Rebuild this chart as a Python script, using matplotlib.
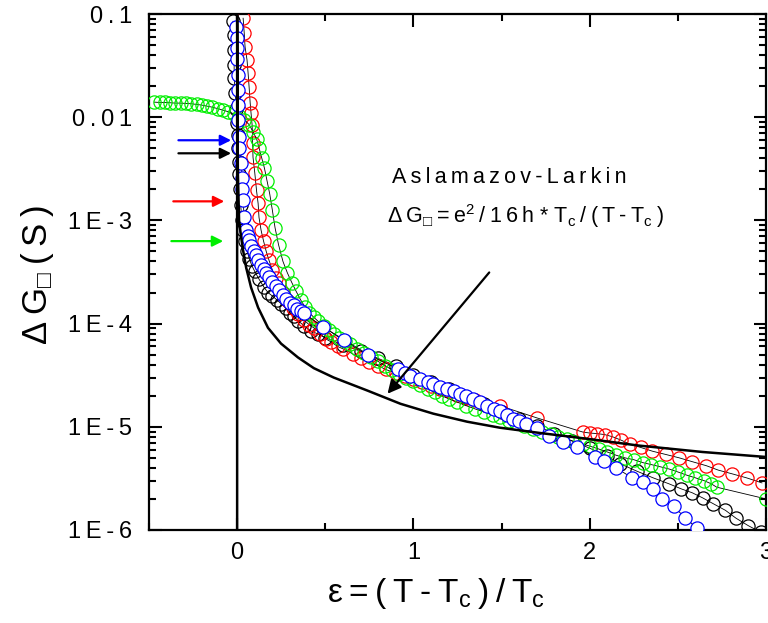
import matplotlib
matplotlib.use('Agg')
import matplotlib.pyplot as plt
from matplotlib.ticker import MultipleLocator, FixedLocator, FixedFormatter, LogLocator, NullFormatter

plt.rcParams['font.family'] = ['Liberation Sans', 'DejaVu Sans']
plt.rcParams['mathtext.fontset'] = 'custom'
plt.rcParams['mathtext.rm'] = 'Liberation Sans'
plt.rcParams['mathtext.it'] = 'Liberation Sans'
plt.rcParams['mathtext.default'] = 'regular'

# ---- data (eps = (T-Tc)/Tc, dG in S) ----
# Aslamazov-Larkin curve (thick black line)
eps_al = [0.0, 0.0, 0.004, 0.011, 0.022, 0.034, 0.051, 0.079, 0.119, 0.175, 0.249,
          0.345, 0.435, 0.548, 0.74, 0.927, 1.113, 1.305, 1.49, 1.72, 2.0, 2.27, 2.64, 3.0]
g_al = [5e-7, 0.12, 3e-3, 1.0e-3, 7.0e-4, 5.1e-4, 3.5e-4, 2.24e-4, 1.43e-4, 9.1e-5, 6.4e-5,
        4.7e-5, 3.7e-5, 3.0e-5, 2.24e-5, 1.67e-5, 1.34e-5, 1.12e-5, 9.8e-6, 8.7e-6, 7.6e-6,
        6.6e-6, 5.7e-6, 5.1e-6]

# black circles
eps_k = [-0.023, -0.02, -0.017, -0.017, -0.017, -0.01, -0.005, 0.0, 0.006, 0.006, 0.008,
         0.011, 0.014, 0.02, 0.028, 0.034, 0.045, 0.056, 0.07, 0.085, 0.1, 0.124, 0.153,
         0.175, 0.2, 0.225, 0.249, 0.275, 0.3, 0.32, 0.345, 0.38, 0.418, 0.46, 0.5, 0.6,
         0.7, 0.8, 0.9, 1.0, 1.1, 1.2, 1.3, 1.4, 1.5, 1.6, 1.7, 1.8, 1.9, 2.0, 2.1, 2.17,
         2.27, 2.36, 2.45, 2.52, 2.58, 2.64, 2.70, 2.77, 2.83, 2.9, 2.97]
g_k = [0.085, 0.062, 0.045, 0.032, 0.024, 0.017, 0.012, 0.0088, 0.0067, 0.0050, 0.0037,
       0.0028, 0.0020, 0.0014, 0.0010, 8.0e-4, 6.3e-4, 5.1e-4, 4.2e-4, 3.6e-4, 3.2e-4,
       2.7e-4, 2.24e-4, 2.0e-4, 1.85e-4, 1.7e-4, 1.56e-4, 1.42e-4, 1.28e-4, 1.18e-4,
       1.07e-4, 9.5e-5, 8.5e-5, 7.9e-5, 7.3e-5, 6.2e-5, 5.4e-5, 4.6e-5, 3.9e-5, 3.2e-5,
       2.7e-5, 2.3e-5, 1.95e-5, 1.65e-5, 1.4e-5, 1.2e-5, 1.02e-5, 8.6e-6, 7.3e-6, 6.2e-6,
       5.2e-6, 4.4e-6, 3.7e-6, 3.2e-6, 2.8e-6, 2.5e-6, 2.3e-6, 2.05e-6, 1.8e-6, 1.55e-6,
       1.3e-6, 1.1e-6, 9.5e-7]

# red circles
eps_r = [0.034, 0.040, 0.045, 0.056, 0.062, 0.068, 0.074, 0.079, 0.085, 0.088, 0.09, 0.1,
         0.11, 0.119, 0.124, 0.136, 0.15, 0.165, 0.181, 0.2, 0.22, 0.237, 0.26, 0.29, 0.316,
         0.345, 0.38, 0.41, 0.435, 0.47, 0.503, 0.53, 0.57, 0.6, 0.655, 0.7, 0.75, 0.8,
         0.842, 0.9, 0.95, 1.0, 1.05, 1.1, 1.15, 1.2, 1.25, 1.3, 1.35, 1.49, 1.70, 1.96,
         2.0, 2.04, 2.085, 2.13, 2.18, 2.226, 2.29, 2.356, 2.43, 2.508, 2.58, 2.661, 2.73,
         2.808, 2.89, 2.977]
g_r = [0.091, 0.066, 0.048, 0.036, 0.027, 0.0195, 0.0137, 0.0109, 0.0084, 0.0056, 0.0041,
       0.0029, 0.00195, 0.00146, 0.00107, 8.0e-4, 6.3e-4, 5.0e-4, 4.1e-4, 3.3e-4, 2.75e-4,
       2.45e-4, 2.0e-4, 1.65e-4, 1.43e-4, 1.25e-4, 1.08e-4, 9.7e-5, 9.1e-5, 8.0e-5, 7.1e-5,
       6.7e-5, 6.0e-5, 5.7e-5, 5.1e-5, 4.6e-5, 4.2e-5, 3.9e-5, 3.6e-5, 3.3e-5, 3.1e-5,
       2.9e-5, 2.7e-5, 2.5e-5, 2.35e-5, 2.2e-5, 2.05e-5, 1.92e-5, 1.8e-5, 1.6e-5, 1.22e-5,
       8.9e-6, 8.7e-6, 8.6e-6, 8.4e-6, 8.0e-6, 7.4e-6, 6.8e-6, 6.3e-6, 5.8e-6, 5.4e-6,
       5.0e-6, 4.6e-6, 4.2e-6, 3.8e-6, 3.5e-6, 3.2e-6, 2.86e-6]

# green circles
eps_g = [-0.47, -0.44, -0.41, -0.38, -0.35, -0.32, -0.29, -0.26, -0.23, -0.20, -0.17, -0.14,
         -0.11, -0.08, -0.05, -0.02, 0.01, 0.04, 0.07, 0.09, 0.11, 0.125, 0.14, 0.155, 0.17,
         0.185, 0.2, 0.215, 0.235, 0.26, 0.285, 0.31, 0.335, 0.36, 0.385, 0.41, 0.435, 0.46,
         0.49, 0.52, 0.55, 0.58, 0.61, 0.64, 0.68, 0.72, 0.76, 0.80, 0.84, 0.88, 0.92, 0.96,
         1.0, 1.04, 1.08, 1.12, 1.16, 1.2, 1.25, 1.3, 1.35, 1.4, 1.45, 1.49, 1.54, 1.58, 1.63,
         1.68, 1.73, 1.78, 1.82, 1.87, 1.91, 1.96, 2.0, 2.05, 2.1, 2.15, 2.2, 2.25, 2.3, 2.35,
         2.4, 2.45, 2.5, 2.55, 2.6, 2.65, 2.69, 2.72, 3.0]
g_g = [0.0140, 0.0139, 0.0139, 0.0138, 0.0137, 0.0137, 0.0136, 0.0135, 0.0133, 0.0131,
       0.0128, 0.0125, 0.0121, 0.0117, 0.0113, 0.0108, 0.0103, 0.0095, 0.0084, 0.0072,
       0.0062, 0.0050, 0.0040, 0.0032, 0.0024, 0.0018, 0.00125, 8.5e-4, 5.8e-4, 4.0e-4,
       3.1e-4, 2.5e-4, 2.05e-4, 1.7e-4, 1.45e-4, 1.27e-4, 1.15e-4, 1.05e-4, 9.5e-5, 8.6e-5,
       7.9e-5, 7.3e-5, 6.8e-5, 6.3e-5, 5.7e-5, 5.2e-5, 4.7e-5, 4.3e-5, 3.9e-5, 3.55e-5,
       3.25e-5, 3.0e-5, 2.75e-5, 2.55e-5, 2.35e-5, 2.15e-5, 2.0e-5, 1.87e-5, 1.73e-5, 1.6e-5,
       1.49e-5, 1.39e-5, 1.3e-5, 1.24e-5, 1.15e-5, 1.08e-5, 1.02e-5, 9.6e-6, 9.0e-6, 8.5e-6,
       8.0e-6, 7.6e-6, 7.2e-6, 6.8e-6, 6.5e-6, 6.1e-6, 5.7e-6, 5.3e-6, 5.0e-6, 4.8e-6,
       4.5e-6, 4.3e-6, 4.1e-6, 3.9e-6, 3.65e-6, 3.4e-6, 3.2e-6, 3.0e-6, 2.8e-6, 2.6e-6, 2.0e-6]

# blue circles
eps_b = [-0.006, -0.003, 0.0, 0.0, 0.006, 0.006, 0.006, 0.006, 0.011, 0.011, 0.023, 0.028,
         0.028, 0.034, 0.04, 0.051, 0.06, 0.068, 0.08, 0.095, 0.107, 0.12, 0.135, 0.15, 0.165,
         0.18, 0.2, 0.22, 0.24, 0.26, 0.28, 0.3, 0.32, 0.34, 0.36, 0.379, 0.486, 0.605, 0.745,
         0.91, 0.95, 0.983, 1.04, 1.08, 1.113, 1.15, 1.19, 1.23, 1.265, 1.30, 1.34, 1.38,
         1.42, 1.455, 1.49, 1.53, 1.567, 1.60, 1.64, 1.70, 1.77, 1.85, 1.93, 2.03, 2.08,
         2.15, 2.24, 2.30, 2.36, 2.41, 2.48, 2.54, 2.61]
g_b = [0.075, 0.058, 0.047, 0.037, 0.0256, 0.0183, 0.0131, 0.0094, 0.0064, 0.0050, 0.0036,
       0.0026, 0.0020, 0.00156, 0.00107, 8.0e-4, 7.0e-4, 6.4e-4, 5.7e-4, 5.1e-4, 4.6e-4,
       4.1e-4, 3.7e-4, 3.4e-4, 3.1e-4, 2.85e-4, 2.55e-4, 2.3e-4, 2.1e-4, 1.9e-4, 1.75e-4,
       1.6e-4, 1.5e-4, 1.4e-4, 1.32e-4, 1.26e-4, 9.3e-5, 7.0e-5, 5.0e-5, 3.65e-5, 3.35e-5,
       3.1e-5, 2.9e-5, 2.7e-5, 2.6e-5, 2.45e-5, 2.3e-5, 2.2e-5, 2.1e-5, 1.98e-5, 1.87e-5,
       1.73e-5, 1.6e-5, 1.5e-5, 1.43e-5, 1.3e-5, 1.2e-5, 1.13e-5, 1.07e-5, 9.8e-6, 8.1e-6,
       7.2e-6, 6.3e-6, 5.1e-6, 4.7e-6, 4.0e-6, 3.2e-6, 2.9e-6, 2.5e-6, 2.0e-6, 1.7e-6,
       1.3e-6, 1.05e-6]

# arrows marking onset levels: (x tail, x head, y)
arrow_colors = ['#0000ff', 'black', '#ff0000', '#00ee00']
arrow_x0 = [-0.333, -0.333, -0.362, -0.373]
arrow_x1 = [-0.034, -0.034, -0.073, -0.079]
arrow_y = [5.98e-3, 4.47e-3, 1.53e-3, 6.3e-4]

ytick_vals = [1e-6, 1e-5, 1e-4, 1e-3, 1e-2, 1e-1]
ytick_text = ['1E-6', '1E-5', '1E-4', '1E-3', '0.01', '0.1']
xtick_vals = [0, 1, 2, 3]


def spaced(s, sp='\u2009'):
    # Origin-style letter spacing: thin space between plain characters
    out = []
    in_math = False
    for i, ch in enumerate(s):
        out.append(ch)
        if ch == '$':
            in_math = not in_math
            if not in_math and i + 1 < len(s) and s[i + 1] not in '$ ':
                out.append(sp)
            continue
        if not in_math and i + 1 < len(s) and s[i + 1] not in '$ ' and ch != ' ':
            out.append(sp)
    return ''.join(out)


fig = plt.figure(figsize=(7.68, 6.23), dpi=100)
ax = fig.add_axes([0.194, 0.1493, 0.8034, 0.8282])

series = [(eps_k, g_k, 'black', 'none'),
          (eps_r, g_r, '#ff0000', 'none'),
          (eps_g, g_g, '#00ee00', 'none'),
          (eps_b, g_b, '#0000ff', 'white')]
for i, (x, y, c, fc) in enumerate(series):
    assert len(x) == len(y)
    ax.plot(x, y, '-', color='black', lw=0.6, zorder=2 + i)
    ax.plot(x, y, 'o', ms=9.5, mfc=fc, mec=c, mew=0.9, ls='none', zorder=2 + i)

ax.plot(eps_al, g_al, '-', color='black', lw=1.8, zorder=10)

for c, x0, x1, y in zip(arrow_colors, arrow_x0, arrow_x1, arrow_y):
    ax.annotate('', xy=(x1, y), xytext=(x0, y),
                arrowprops=dict(arrowstyle='-|>', color=c, lw=1.6,
                                mutation_scale=16, shrinkA=0, shrinkB=0))

ax.annotate('', xy=(0.853, 2.09e-5), xytext=(1.43, 3.13e-4),
            arrowprops=dict(arrowstyle='-|>', color='black', lw=1.6,
                            mutation_scale=20, shrinkA=0, shrinkB=0), zorder=11)

ax.text(0.394, 0.672, spaced('Aslamazov-Larkin'), transform=ax.transAxes, fontsize=15.5,
        va='baseline', ha='left')
ax.text(0.386, 0.595, spaced('ΔG$_{□}$=e$^2$/16h * T$_c$/(T-T$_c$)'), transform=ax.transAxes,
        fontsize=15.5, va='baseline', ha='left')

ax.set_xlim(-0.5, 3.0)
ax.set_yscale('log')
ax.set_ylim(1e-6, 0.1)
ax.xaxis.set_major_locator(FixedLocator(xtick_vals))
ax.xaxis.set_major_formatter(FixedFormatter([str(v) for v in xtick_vals]))
ax.xaxis.set_minor_locator(MultipleLocator(0.5))
ax.yaxis.set_major_locator(FixedLocator(ytick_vals))
ax.yaxis.set_major_formatter(FixedFormatter([spaced(t) for t in ytick_text]))
ax.yaxis.set_minor_locator(LogLocator(base=10, subs=range(2, 10)))
ax.yaxis.set_minor_formatter(NullFormatter())

ax.tick_params(which='both', direction='in', top=True, right=True, width=1.5)
ax.tick_params(which='major', length=9)
ax.tick_params(which='minor', length=5)
ax.tick_params(axis='x', labelsize=17, pad=9)
ax.tick_params(axis='y', labelsize=17, pad=12)
for sp in ax.spines.values():
    sp.set_linewidth(1.6)

fig.text(0.567, 0.047, spaced('ε=(T-T$_c$)/T$_c$'), fontsize=24, ha='center', va='center')
fig.text(0.049, 0.559, spaced('ΔG$_{□}$(S)'), fontsize=25, rotation=90,
         ha='center', va='center')

fig.savefig('out.png', dpi=100)
